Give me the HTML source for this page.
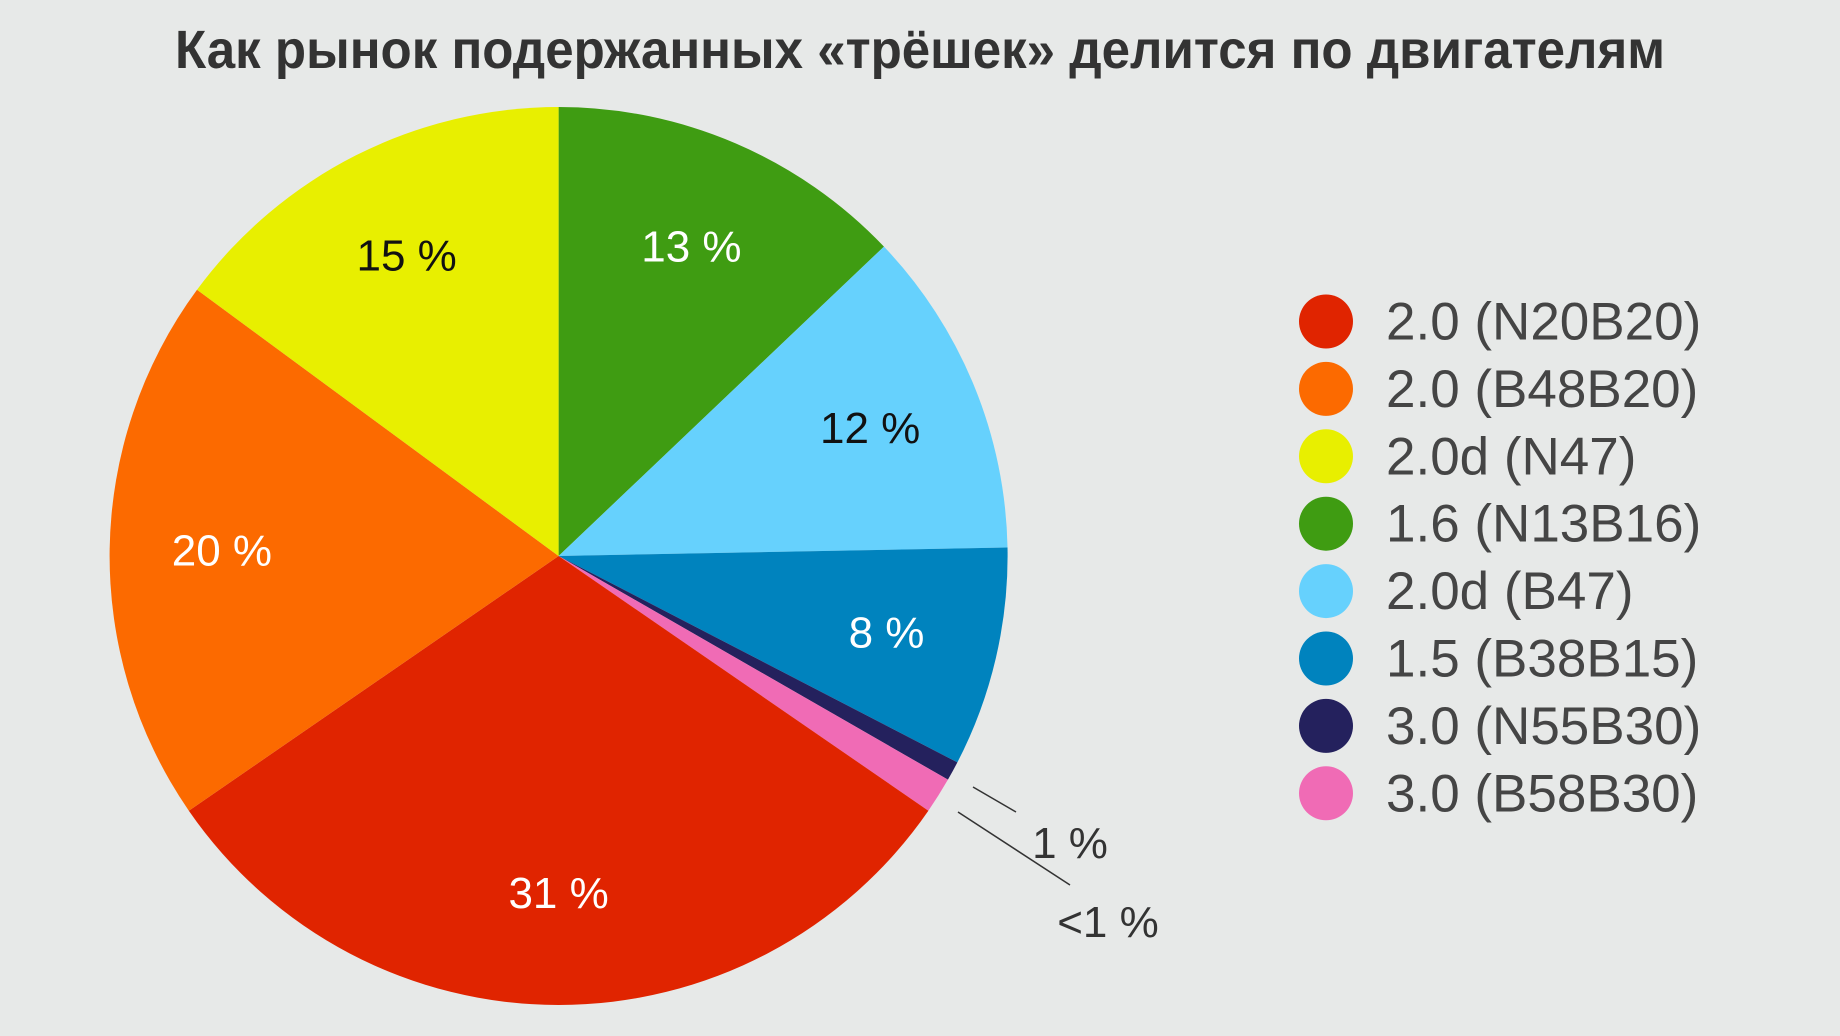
<!DOCTYPE html>
<html><head><meta charset="utf-8"><style>
html,body{margin:0;padding:0;background:#e7e9e8;}
svg{display:block;}
text{font-family:"Liberation Sans",sans-serif;}
</style></head><body>
<svg id="chart" width="1840" height="1036" viewBox="0 0 1840 1036">
<rect width="1840" height="1036" fill="#e7e9e8"/>
<text x="920" y="68" text-anchor="middle" font-size="54" font-weight="bold" fill="#333" textLength="1490" lengthAdjust="spacingAndGlyphs" style="font-family:'Liberation Sans Narrow','Liberation Sans',sans-serif">Как рынок подержанных «трёшек» делится по двигателям</text>
<g id="pie"></g>
<g id="legend"></g>
<g>
<line x1="973" y1="787" x2="1016" y2="812" stroke="#333" stroke-width="1.5"/>
<line x1="958" y1="812" x2="1070" y2="885" stroke="#333" stroke-width="1.5"/>
<text x="1070" y="858" text-anchor="middle" font-size="44" fill="#333">1 %</text>
<text x="1108" y="937" text-anchor="middle" font-size="44" fill="#333">&lt;1 %</text>
</g>
</svg>
<script>
const categories = ["2.0 (N20B20)","2.0 (B48B20)","2.0d (N47)","1.6 (N13B16)","2.0d (B47)","1.5 (B38B15)","3.0 (N55B30)","3.0 (B58B30)"];
const values = [30.8,19.7,14.9,12.9,11.8,7.9,0.7,1.3];
const sliceLabels = ["31 %","20 %","15 %","13 %","12 %","8 %","",""];
const colors = ["#e02400","#fc6a00","#e8ef00","#3f9c12","#66d1fd","#0083be","#24215d","#f06bb5"];
const labelColors = ["#fff","#fff","#111","#fff","#111","#fff","#fff","#fff"];
const drawOrder = [3,4,5,6,7,0,1,2];
const NS="http://www.w3.org/2000/svg";
const cx=558.6, cy=556, R=449;
const total=values.reduce((a,b)=>a+b,0);
function pt(a,r){return [cx+r*Math.sin(a), cy-r*Math.cos(a)];}
const pie=document.getElementById('pie');
let acc=0;
const labels=[];
drawOrder.forEach(i=>{
  const a0=acc/total*2*Math.PI; acc+=values[i]; const a1=acc/total*2*Math.PI;
  const p0=pt(a0,R), p1=pt(a1,R);
  const large=(a1-a0)>Math.PI?1:0;
  const path=document.createElementNS(NS,'path');
  path.setAttribute('d',`M${cx},${cy} L${p0[0]},${p0[1]} A${R},${R} 0 ${large} 1 ${p1[0]},${p1[1]} Z`);
  path.setAttribute('fill',colors[i]);
  
  
  pie.appendChild(path);
  if(sliceLabels[i]){
    const m=(a0+a1)/2, lp=pt(m,R*0.75);
    labels.push([lp,i]);
  }
});
labels.forEach(([lp,i])=>{
  const t=document.createElementNS(NS,'text');
  t.setAttribute('x',lp[0]); t.setAttribute('y',lp[1]+15);
  t.setAttribute('text-anchor','middle'); t.setAttribute('font-size','44');
  t.setAttribute('fill',labelColors[i]);
  t.textContent=sliceLabels[i];
  
  
  pie.appendChild(t);
});
const lg=document.getElementById('legend');
categories.forEach((c,i)=>{
  const y=321.5+i*67.4;
  const g=document.createElementNS(NS,'g');
  
  
  const ci=document.createElementNS(NS,'circle');
  ci.setAttribute('cx',1326); ci.setAttribute('cy',y); ci.setAttribute('r',27);
  ci.setAttribute('fill',colors[i]);
  
  
  const t=document.createElementNS(NS,'text');
  t.setAttribute('x',1386); t.setAttribute('y',y+18);
  t.setAttribute('font-size','53'); t.setAttribute('fill','#454545');
  t.textContent=c;
  
  
  g.appendChild(ci); g.appendChild(t); lg.appendChild(g);
});
</script>
</body></html>
